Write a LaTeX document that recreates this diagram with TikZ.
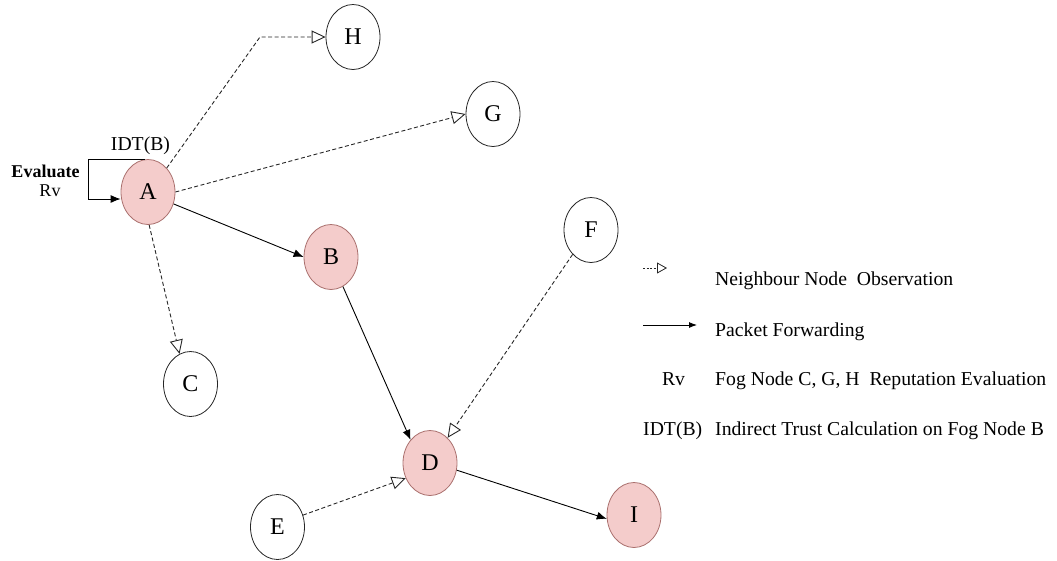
\documentclass[tikz,border=0pt]{standalone}
\usepackage{fontspec}
\setmainfont{Liberation Serif}
\usetikzlibrary{shapes.geometric,arrows.meta}
\definecolor{pinkfill}{RGB}{244,204,203}
\definecolor{pinkline}{RGB}{170,112,110}
\begin{document}
\begin{tikzpicture}[x=1pt,y=-1pt,
  fnode/.style={ellipse,draw=black!85,line width=0.8pt,minimum width=54pt,minimum height=65pt,inner sep=0pt,font=\fontsize{24}{28}\selectfont},
  pnode/.style={fnode,fill=pinkfill,draw=pinkline},
  obs/.style={draw=black!85,line width=0.9pt,dash pattern=on 4pt off 2.5pt,-{Triangle[open,length=14pt,width=13pt]}},
  fwd/.style={draw=black,line width=0.9pt,-{Latex[length=10pt,width=8pt]}},
  lbl/.style={font=\fontsize{19.7}{23}\selectfont,inner sep=0pt},
  sml/.style={font=\fontsize{18}{20}\selectfont,inner sep=0pt,anchor=base},
]
\useasboundingbox (0,0) rectangle (1057,560);
% nodes
\node[pnode] (A) at (148,192) {A};
\node[pnode] (B) at (331,257) {B};
\node[fnode] (C) at (190.5,384) {C};
\node[pnode] (D) at (430,463) {D};
\node[fnode] (E) at (277.5,527) {E};
\node[fnode] (F) at (591,230) {F};
\node[fnode] (G) at (493,114) {G};
\node[fnode] (H) at (353,37) {H};
\node[pnode] (I) at (634,515) {I};
% connectors
\coordinate (hb) at (260,37);
\draw[obs] (A.52) -- (hb) -- (H.west);
\draw[obs] (A.east) -- (G.west);
\draw[obs] (A.-88) -- (C.110);
\draw[fwd] (A.-25) -- (B.west);
\draw[fwd] (B.-68) -- (D.130);
\draw[obs] (F.233) -- (D.55);
\draw[obs] (E.25) -- (D.212);
\draw[fwd] (D.-15) -- (I.188);
% self loop
\coordinate (l2) at (88,199);
\draw[fwd] (A.95) -| (l2) -- (A.west |- l2);
% labels
\node[lbl] (idt) at (140.5,146) {IDT(B)};
\node[sml,font=\fontsize{18}{20}\selectfont\bfseries] (ev) at (45.5,177) {Evaluate};
\node[sml] (rv) at (50,196) {Rv};
% legend
\coordinate (lg1s) at (643,268);
\coordinate (lg1e) at (667,268);
\draw[draw=black!85,line width=0.8pt,dash pattern=on 2pt off 1.5pt,-{Triangle[open,length=10pt,width=11pt]}] (lg1s) -- (lg1e);
\coordinate (lg2s) at (643,325);
\coordinate (lg2e) at (697,325);
\draw[draw=black,line width=0.9pt,-{Latex[length=8pt,width=6pt]}] (lg2s) -- (lg2e);
\node[lbl,anchor=base west] (t1) at (715,285) {Neighbour Node~~Observation};
\node[lbl,anchor=base west] (t2) at (715,336.7) {Packet Forwarding};
\node[lbl,anchor=base] (t3a) at (673.5,385.7) {Rv};
\node[lbl,anchor=base west] (t3) at (715,385.7) {Fog Node C, G, H~~Reputation Evaluation};
\node[lbl,anchor=base west] (t4a) at (643,435) {IDT(B)};
\node[lbl,anchor=base west] (t4) at (715,435) {Indirect Trust Calculation on Fog Node B};
\end{tikzpicture}
\end{document}
